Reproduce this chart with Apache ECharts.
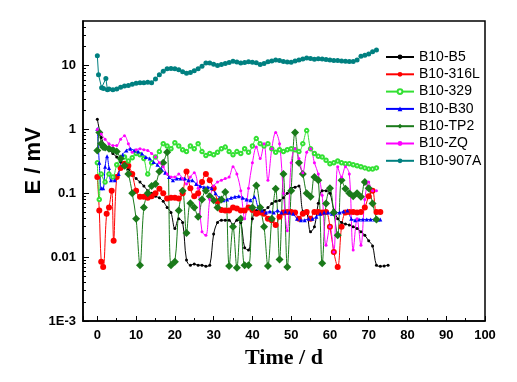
<!DOCTYPE html>
<html><head><meta charset="utf-8">
<script src="https://cdn.jsdelivr.net/npm/echarts@6/dist/echarts.min.js"></script>
<style>html,body{margin:0;padding:0;background:#fff}#c{width:517px;height:382px}</style>
</head><body><div id="c"></div>
<script>
const seriesNames = ['B10-B5','B10-316L','B10-329','B10-B30','B10-TP2','B10-ZQ','B10-907A'];
const yTickLabels = {'-3':'1E-3','-2':'0.01','-1':'0.1','0':'1','1':'10'};
const yMajorTicks = [0.001,0.01,0.1,1,10];
const yMinorTicks = [0.002,0.003,0.004,0.005,0.006,0.007,0.008,0.009,0.02,0.03,0.04,0.05,0.06,0.07,0.08,0.09,0.2,0.3,0.4,0.5,0.6,0.7,0.8,0.9,2,3,4,5,6,7,8,9,20,30,40];
const xTicks = [0,10,20,30,40,50,60,70,80,90,100];

const dataB5 = [[0,1.45],[1,0.75],[2,0.55],[3,0.48],[4,0.42],[5,0.37],[6,0.31],[7,0.27],[8,0.24],[9,0.2],[10,0.17],[11,0.15],[12,0.13],[13,0.11],[14,0.1],[15,0.09],[16,0.085],[17,0.075],[18,0.06],[19,0.05],[20,0.028],[21,0.04],[22,0.035],[23,0.009],[24,0.0075],[25,0.0078],[26,0.0075],[27,0.0075],[28,0.0072],[29,0.0075],[30,0.023],[31,0.035],[32,0.038],[33,0.038],[34,0.038],[35,0.032],[36,0.038],[37,0.035],[38,0.014],[39,0.013],[40,0.04],[41,0.054],[42,0.054],[43,0.054],[44,0.06],[45,0.069],[46,0.075],[47,0.077],[48,0.085],[49,0.1],[50,0.12],[51,0.125],[52,0.13],[53,0.052],[54,0.05],[55,0.025],[56,0.03],[57,0.07],[58,0.11],[59,0.11],[60,0.1],[61,0.055],[62,0.04],[63,0.035],[64,0.033],[65,0.032],[66,0.03],[67,0.028],[68,0.025],[69,0.022],[70,0.018],[71,0.015],[72,0.0075],[73,0.0072],[74,0.0073],[75,0.0075]];
const data316L = [[0,0.18],[0.5,0.054],[1,0.0085],[1.5,0.007],[2.4,0.048],[3,0.06],[3.7,0.11],[4.2,0.018],[5,0.18],[6,0.25],[7,0.29],[8,0.27],[9,0.2],[10,0.11],[11,0.088],[12,0.088],[13,0.085],[14,0.09],[15,0.1],[16,0.118],[17,0.1],[18,0.083],[19,0.085],[20,0.085],[21,0.083],[22,0.1],[23,0.22],[24,0.12],[25,0.09],[26,0.1],[27,0.15],[28,0.2],[29,0.16],[30,0.12],[31,0.075],[32,0.055],[33,0.054],[34,0.054],[35,0.06],[36,0.058],[37,0.054],[38,0.054],[39,0.06],[40,0.055],[41,0.048],[42,0.05],[43,0.048],[44,0.04],[45,0.038],[46,0.032],[47,0.043],[48,0.05],[49,0.051],[50,0.051],[51,0.05],[52,0.04],[53,0.048],[54,0.051],[55,0.04],[56,0.051],[57,0.051],[58,0.05],[59,0.051],[60,0.03],[61,0.012],[62,0.007],[63,0.03],[64,0.05],[65,0.051],[66,0.051],[67,0.05],[68,0.051],[69,0.06],[70,0.09],[71,0.11],[72,0.051],[73,0.051]];
const data329 = [[0,0.3],[0.5,0.08],[1,0.2],[2,0.15],[3,0.2],[4,0.18],[5,0.28],[6,0.35],[7,0.37],[8,0.32],[9,0.36],[10,0.42],[11,0.4],[12,0.35],[13,0.2],[14,0.3],[15,0.37],[16,0.45],[17,0.6],[18,0.55],[19,0.5],[20,0.62],[21,0.55],[22,0.48],[23,0.45],[24,0.55],[25,0.5],[26,0.6],[27,0.45],[28,0.39],[29,0.42],[30,0.4],[31,0.44],[32,0.5],[33,0.53],[34,0.45],[35,0.4],[36,0.45],[37,0.42],[38,0.5],[39,0.44],[40,0.55],[41,0.72],[42,0.6],[43,0.55],[44,0.6],[45,0.5],[46,0.44],[47,0.48],[48,0.45],[49,0.48],[50,0.5],[51,0.48],[52,0.45],[53,0.6],[54,0.96],[55,0.5],[56,0.42],[57,0.38],[58,0.37],[59,0.33],[60,0.29],[61,0.3],[62,0.32],[63,0.3],[64,0.29],[65,0.29],[66,0.28],[67,0.27],[68,0.26],[69,0.25],[70,0.24],[71,0.24],[72,0.25]];
const dataB30 = [[0,1.02],[0.5,0.3],[1,0.12],[1.5,0.12],[2,0.26],[2.5,0.38],[3,0.25],[3.5,0.16],[4.5,0.16],[5.5,0.2],[6.5,0.4],[7.5,0.47],[8.5,0.5],[9.5,0.47],[10.5,0.45],[11.5,0.42],[12.5,0.37],[13.5,0.35],[14.5,0.31],[15.5,0.28],[16.5,0.24],[17.5,0.21],[18.5,0.18],[19.5,0.16],[20.5,0.17],[21.5,0.17],[22.5,0.17],[23.5,0.16],[24.5,0.16],[25.5,0.14],[26.5,0.13],[27.5,0.125],[28.5,0.125],[29.5,0.12],[30.5,0.1],[31.5,0.085],[32.5,0.078],[33.5,0.08],[34.5,0.085],[35.5,0.088],[36.5,0.09],[37.5,0.085],[38.5,0.08],[39.5,0.078],[40.5,0.088],[41.5,0.06],[42.5,0.054],[43.5,0.05],[44.5,0.052],[45.5,0.05],[46.5,0.054],[47.5,0.05],[48.5,0.052],[49.5,0.05],[50.5,0.048],[51.5,0.04],[52.5,0.038],[53.5,0.038],[54.5,0.04],[55.5,0.04],[56.5,0.043],[57.5,0.048],[58.5,0.05],[59.5,0.05],[60.5,0.048],[61.5,0.05],[62.5,0.05],[63.5,0.052],[64.5,0.054],[65.5,0.04],[66.5,0.038],[67.5,0.039],[68.5,0.039],[69.5,0.039],[70.5,0.039],[71.5,0.039],[72.5,0.039],[73,0.039]];
const dataTP2 = [[0,0.47],[0.5,0.9],[1,0.6],[1.5,0.53],[2,0.52],[3,0.5],[4,0.48],[5,0.45],[6,0.35],[7,0.27],[8,0.2],[9,0.1],[10,0.04],[11,0.0075],[12,0.06],[13,0.1],[14,0.13],[15,0.14],[16,0.22],[17,0.3],[18,0.44],[19,0.0075],[20,0.0085],[21,0.054],[22,0.11],[23,0.024],[24,0.07],[25,0.06],[26,0.043],[27,0.08],[28,0.11],[29,0.09],[30,0.078],[31,0.06],[32,0.08],[33,0.105],[34,0.0073],[35,0.03],[36,0.0068],[37,0.04],[38,0.0075],[39,0.0075],[40,0.06],[41,0.133],[42,0.06],[43,0.03],[44,0.0073],[45,0.04],[46,0.118],[47,0.0092],[48,0.2],[49,0.007],[50,0.11],[51,0.9],[52,0.3],[53,0.2],[54,0.1],[55,0.088],[56,0.18],[57,0.16],[58,0.008],[59,0.069],[60,0.12],[61,0.05],[62,0.022],[63,0.16],[64,0.118],[65,0.1],[66,0.09],[67,0.1],[68,0.088],[69,0.15],[70,0.12],[71,0.069],[72,0.039]];
const dataZQ = [[0,1.0],[1,0.85],[2,0.7],[3,0.6],[4,0.56],[5,0.56],[6,0.7],[7,0.8],[8,0.6],[9,0.44],[10,0.48],[11,0.5],[12,0.48],[13,0.47],[14,0.42],[15,0.37],[16,0.3],[17,0.26],[18,0.2],[19,0.18],[20,0.18],[21,0.2],[22,0.17],[23,0.14],[24,0.18],[25,0.21],[26,0.12],[27,0.025],[28,0.022],[29,0.08],[30,0.13],[31,0.15],[32,0.16],[33,0.17],[34,0.18],[35,0.26],[36,0.2],[37,0.11],[38,0.04],[39,0.12],[40,0.3],[41,0.53],[42,0.35],[43,0.6],[44,0.16],[45,0.5],[46,0.9],[47,0.6],[48,0.1],[49,0.026],[50,0.3],[51,0.5],[52,0.35],[53,0.21],[54,0.44],[55,0.5],[56,0.3],[57,0.2],[58,0.093],[59,0.0154],[60,0.03],[61,0.012],[62,0.26],[63,0.18],[64,0.26],[65,0.2],[66,0.013],[67,0.04],[68,0.0154],[69,0.08],[70,0.15],[71,0.11],[72,0.11]];
const data907A = [[0,14.3],[0.3,7.2],[1.1,4.5],[1.6,4.4],[2.2,6.3],[2.6,4.2],[3,4.3],[4,4.2],[5,4.3],[6,4.6],[7,4.8],[8,4.9],[9,5.1],[10,5.3],[11,5.4],[12,5.4],[13,5.5],[14,5.4],[15,6.2],[16,7.2],[17,8.2],[18,8.9],[19,9],[20,8.9],[21,8.6],[22,8],[23,7.6],[24,7.8],[25,8.3],[26,8.9],[27,9.8],[28,11],[29,11],[30,10.5],[31,10],[32,10.4],[33,10.8],[34,11.2],[35,11.7],[36,11.4],[37,11],[38,11.2],[39,11.5],[40,11.3],[41,11.1],[42,10.4],[43,10.8],[44,11.5],[45,11.8],[46,12.2],[47,12],[48,11.6],[49,11.4],[50,11.3],[51,11.8],[52,12.3],[53,12.7],[54,13.2],[55,12.9],[56,12.6],[57,12.8],[58,12.7],[59,12.5],[60,12.3],[61,12],[62,12],[63,11.8],[64,11.7],[65,11.6],[66,11.6],[67,12.3],[68,14],[69,14.5],[70,15.2],[71,16.5],[72,17.6]];

const colors = ['#000000','#ff0000','#33e033','#0000ff','#1a7a1a','#ff00ff','#008080'];
const symbols = ['circle','circle','emptyCircle','triangle','diamond','circle','circle'];
const symbolSizes = [3,6,3.5,4,8,3,5];
const allData = [dataB5,data316L,data329,dataB30,dataTP2,dataZQ,data907A];

const fontSans = 'Liberation Sans, Arial, sans-serif';
const baseY = {
  type:'log', logBase:10, min:0.001, max:50, splitLine:{show:false}
};

const chart = echarts.init(document.getElementById('c'));
chart.setOption({
  animation:false,
  backgroundColor:'#fff',
  color: colors,
  grid:{left:83, top:21, right:32, bottom:61, show:true, borderColor:'#000', borderWidth:1.5, backgroundColor:'transparent'},
  legend:{
    orient:'vertical', left:385, top:50, padding:0, itemWidth:28, itemHeight:6, itemGap:3.3,
    textStyle:{fontFamily:fontSans, fontSize:14, lineHeight:14, color:'#000'},
    data: seriesNames.map((n,i)=>({name:n, itemStyle:{borderWidth: i===2?0.8:0}}))
  },
  xAxis:{
    type:'value', min:-3.7, max:100,
    splitNumber:10,
    axisLine:{onZero:false, lineStyle:{color:'#000', width:1.5}},
    axisTick:{inside:true, length:5, lineStyle:{color:'#000'}},
    minorTick:{show:true, splitNumber:2, length:3, lineStyle:{color:'#000'}},
    splitLine:{show:false},
    axisLabel:{showMinLabel:false, color:'#000', fontFamily:fontSans, fontWeight:'bold', fontSize:13, margin:8,
      formatter: v => xTicks.includes(Math.round(v*1000)/1000) ? String(v) : ''},
    name:'Time / d', nameLocation:'middle', nameGap:26, nameMoveOverlap:false,
    nameTextStyle:{fontFamily:'Liberation Serif, Times New Roman, serif', fontWeight:'bold', fontSize:22, color:'#000'}
  },
  yAxis:[
    Object.assign({}, baseY, {
      position:'left',
      axisLine:{onZero:false, lineStyle:{color:'#000', width:1.5}},
      axisTick:{inside:true, length:6, lineStyle:{color:'#000'}, customValues: yMajorTicks},
      axisLabel:{color:'#000', fontFamily:fontSans, fontWeight:'bold', fontSize:13, margin:7, customValues: yMajorTicks,
        formatter: v => { const k = String(Math.round(Math.log10(v))); return yTickLabels[k] || ''; }},
      name:'E / mV', nameLocation:'middle', nameGap:38, nameMoveOverlap:false,
      nameTextStyle:{fontFamily:fontSans, fontWeight:'bold', fontSize:22, color:'#000', padding:[0,0,0,20]}
    }),
    Object.assign({}, baseY, {
      position:'left', offset:0,
      axisLine:{show:false, onZero:false},
      axisTick:{inside:true, length:3, lineStyle:{color:'#000'}, customValues: yMinorTicks},
      axisLabel:{show:false}
    })
  ],
  series: seriesNames.map((n,i)=>({
    name:n, type:'line', data: allData[i], smooth: i===6 ? false : 0.35,
    symbol: symbols[i], symbolSize: symbolSizes[i], showAllSymbol:true,
    lineStyle:{width:1, color:colors[i]},
    itemStyle:{color:colors[i], borderColor:colors[i], borderWidth: i===2?0.8:0},
    z: i===6?2:3
  }))
});
</script></body></html>
